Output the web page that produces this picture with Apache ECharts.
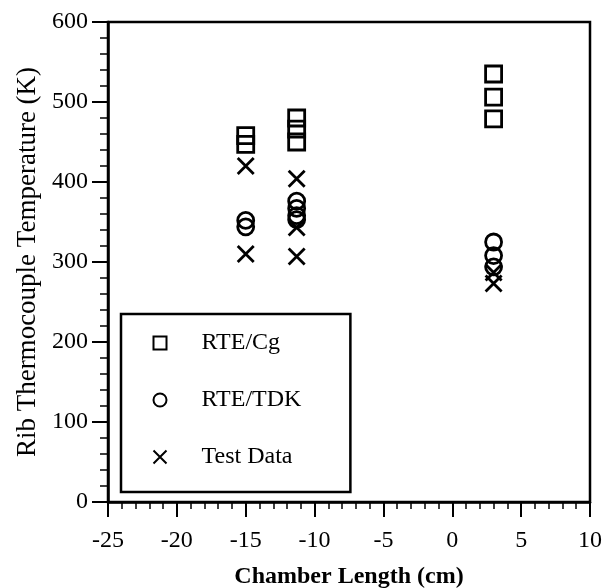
<!DOCTYPE html>
<html>
<head>
<meta charset="utf-8">
<script src="https://cdn.jsdelivr.net/npm/echarts@6/dist/echarts.min.js"></script>
<style>
  html, body { margin: 0; padding: 0; background: #fff; }
  #chart { width: 613px; height: 588px; }
</style>
</head>
<body>
<div id="chart"></div>
<script>
// values
var cgX = [-15, -15, -11.3, -11.3, -11.3, 3, 3, 3]
var cgY = [458, 447, 480, 466, 450, 535, 506, 479]
var tdkX = [-15, -15, -11.3, -11.3, -11.3, -11.3, 3, 3, 3]
var tdkY = [352, 344, 376, 367, 358, 353, 325, 308, 294]
var testX = [-15, -15, -11.3, -11.3, -11.3, 3, 3]
var testY = [420, 310, 404, 343, 307, 287, 273]
var seriesNames = ['RTE/Cg', 'RTE/TDK', 'Test Data']

var font = 'Liberation Serif'
var crossPath = 'path://M0,0L10,10M10,0L0,10'

function pairs (xs, ys) {
  var out = []
  for (var i = 0; i < xs.length; i++) {
    out.push([xs[i], ys[i]])
  }
  return out
}

var chart = echarts.init(document.getElementById('chart'))
chart.setOption({
  animation: false,
  backgroundColor: '#fff',
  grid: {
    left: 108,
    right: 23,
    top: 22,
    bottom: 86,
    outerBoundsMode: 'none',
    show: true,
    borderColor: '#000',
    borderWidth: 2.5
  },
  legend: {
    orient: 'vertical',
    left: 121,
    top: 314,
    padding: [17, 49, 23, 30],
    itemGap: 33,
    itemWidth: 13,
    itemHeight: 13,
    backgroundColor: '#fff',
    borderColor: '#000',
    borderWidth: 2.5,
    data: seriesNames,
    itemStyle: { borderWidth: 2, opacity: 1 },
    textStyle: {
      fontFamily: font,
      fontSize: 24,
      color: '#000',
      lineHeight: 20,
      padding: [0, 0, 0, 30]
    }
  },
  xAxis: {
    type: 'value',
    min: -25,
    max: 10,
    interval: 5,
    name: 'Chamber Length (cm)',
    nameLocation: 'middle',
    nameGap: 63,
    nameTextStyle: { fontFamily: font, fontSize: 24, fontWeight: 'bold', color: '#000' },
    axisLine: { show: true, onZero: false, lineStyle: { color: '#000', width: 2.5 } },
    axisTick: { show: true, length: 15, lineStyle: { color: '#000', width: 2 } },
    minorTick: { show: true, splitNumber: 5, length: 7, lineStyle: { color: '#000', width: 1.5 } },
    axisLabel: { fontFamily: font, fontSize: 24, color: '#000', margin: 27 },
    splitLine: { show: false }
  },
  yAxis: {
    type: 'value',
    min: 0,
    max: 600,
    interval: 100,
    name: 'Rib Thermocouple Temperature (K)',
    nameLocation: 'middle',
    nameGap: 64,
    nameTextStyle: { fontFamily: font, fontSize: 27, color: '#000' },
    axisLine: { show: true, onZero: false, lineStyle: { color: '#000', width: 2.5 } },
    axisTick: { show: true, length: 16, lineStyle: { color: '#000', width: 2 } },
    minorTick: { show: true, splitNumber: 5, length: 8, lineStyle: { color: '#000', width: 1.5 } },
    axisLabel: { fontFamily: font, fontSize: 24, color: '#000', margin: 20 },
    splitLine: { show: false }
  },
  series: [
    {
      name: seriesNames[0],
      type: 'scatter',
      symbol: 'rect',
      symbolSize: 16,
      itemStyle: { color: 'none', borderColor: '#000', borderWidth: 2.8, opacity: 1 },
      data: pairs(cgX, cgY)
    },
    {
      name: seriesNames[1],
      type: 'scatter',
      symbol: 'circle',
      symbolSize: 16,
      itemStyle: { color: 'none', borderColor: '#000', borderWidth: 2.8, opacity: 1 },
      data: pairs(tdkX, tdkY)
    },
    {
      name: seriesNames[2],
      type: 'scatter',
      symbol: crossPath,
      symbolSize: 16,
      itemStyle: { color: 'none', borderColor: '#000', borderWidth: 2.8, opacity: 1 },
      data: pairs(testX, testY)
    }
  ]
})
</script>
</body>
</html>
